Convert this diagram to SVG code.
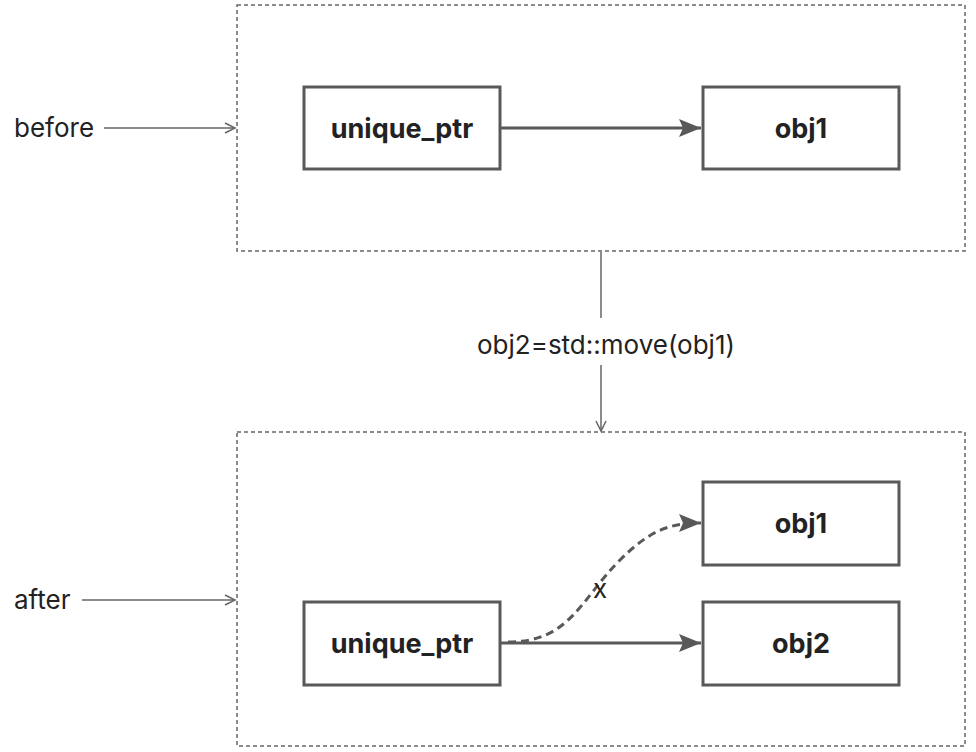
<svg xmlns="http://www.w3.org/2000/svg" width="976" height="752" viewBox="0 0 976 752">
<style>
.frame{fill:none;stroke:#666;stroke-width:1.5;stroke-dasharray:4 3}
.box{fill:#fff;stroke:#595959;stroke-width:3}
.bt{font-family:Inter,"Liberation Sans",sans-serif;font-weight:700;font-size:27px;fill:#222;text-anchor:middle}
.lt{font-family:Inter,"Liberation Sans",sans-serif;font-size:26px;fill:#222}
.thin{fill:none;stroke:#666;stroke-width:1.5}
.thick{fill:none;stroke:#595959;stroke-width:3}
</style>
<defs>
<marker id="open" markerWidth="14" markerHeight="14" refX="11" refY="6" orient="auto" markerUnits="userSpaceOnUse">
<path d="M1,1 L11,6 L1,11" fill="none" stroke="#666" stroke-width="1.5"/>
</marker>
<marker id="solid" markerWidth="24" markerHeight="20" refX="22" refY="9" orient="auto" markerUnits="userSpaceOnUse">
<path d="M0,0 L22,9 L0,18 L4,9 Z" fill="#595959"/>
</marker>
</defs>
<g id="before-frame"><rect class="frame" x="237" y="5" width="728" height="246"/></g>
<g id="after-frame"><rect class="frame" x="237" y="432" width="728" height="314"/></g>
<g id="before-label"><text class="lt" x="14" y="137">before</text></g>
<g id="after-label"><text class="lt" x="14" y="609">after</text></g>
<g id="top-ptr"><rect class="box" x="304" y="87" width="196" height="82"/><text class="bt" x="402" y="138">unique_ptr</text></g>
<g id="top-obj1"><rect class="box" x="703" y="87" width="196" height="82"/><text class="bt" x="801" y="138">obj1</text></g>
<g id="bot-ptr"><rect class="box" x="304" y="602" width="196" height="83"/><text class="bt" x="402" y="653">unique_ptr</text></g>
<g id="bot-obj1"><rect class="box" x="703" y="482" width="196" height="83"/><text class="bt" x="801" y="533">obj1</text></g>
<g id="bot-obj2"><rect class="box" x="703" y="602" width="196" height="83"/><text class="bt" x="801" y="653">obj2</text></g>
<g id="connectors">
<line class="thin" x1="104" y1="128" x2="235" y2="128" marker-end="url(#open)"/>
<line class="thin" x1="82" y1="600" x2="235" y2="600" marker-end="url(#open)"/>
<line class="thick" x1="501" y1="128" x2="701" y2="128" marker-end="url(#solid)"/>
<line class="thick" x1="501" y1="643" x2="701" y2="643" marker-end="url(#solid)"/>
<path class="thick" d="M508,642 C570,642 580,600 620,560 C650,530 670,523 701,523" stroke-dasharray="8 5" marker-end="url(#solid)"/>
<line class="thin" x1="601" y1="252" x2="601" y2="318"/>
<line class="thin" x1="601" y1="365" x2="601" y2="431" marker-end="url(#open)"/>
<text class="lt" x="606" y="354" text-anchor="middle">obj2=std::move(obj1)</text>
<text class="lt" x="600" y="598" text-anchor="middle">x</text>
</g>
</svg>
